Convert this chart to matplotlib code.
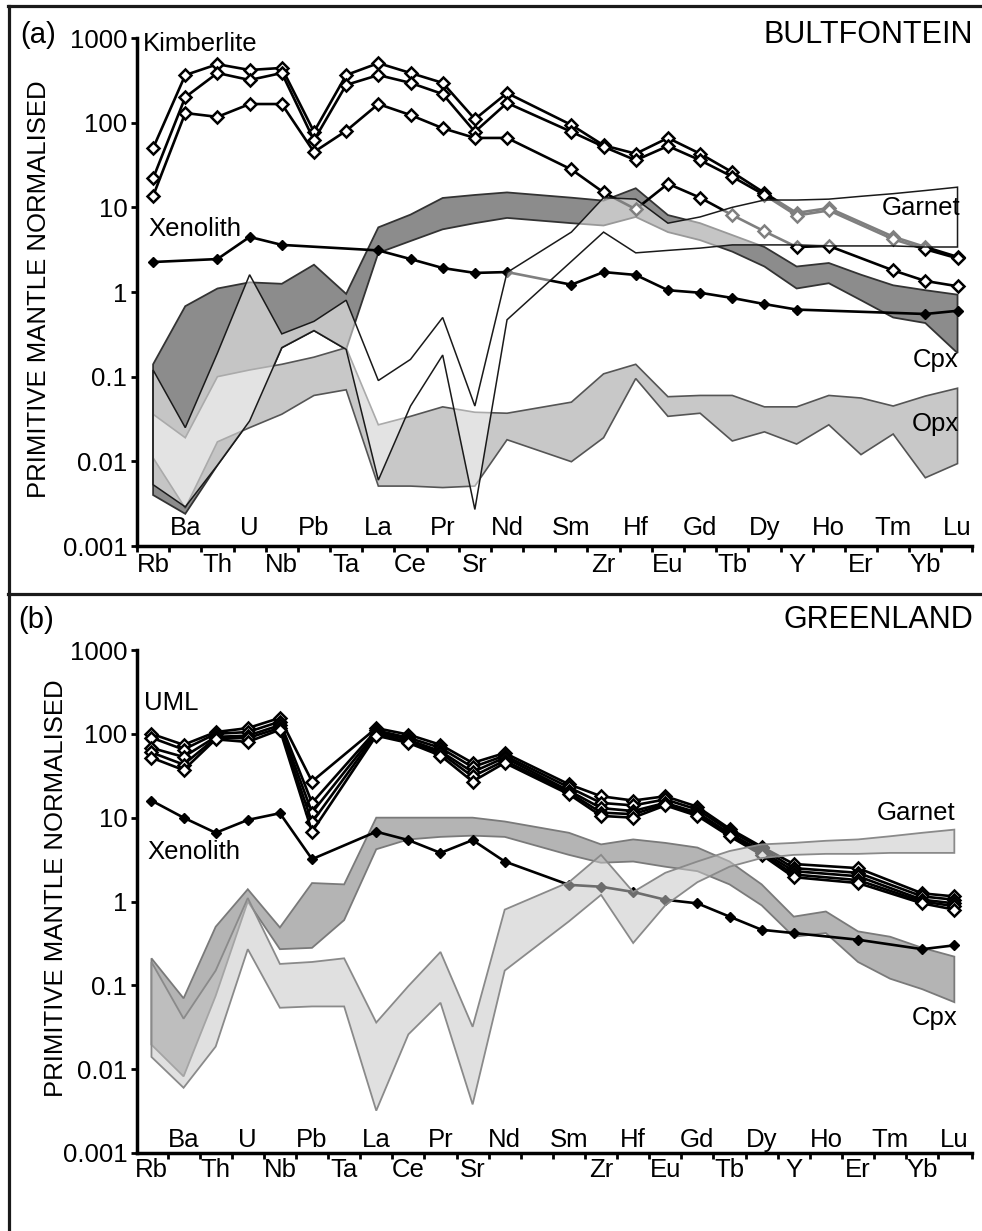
import numpy as np
import matplotlib
matplotlib.use("Agg")
import matplotlib.pyplot as plt
from matplotlib.lines import Line2D
from matplotlib.transforms import blended_transform_factory

plt.rcParams['font.family'] = ['Liberation Sans', 'DejaVu Sans']

# element order of the spider diagram (slot 12 is empty)
elements = ['Rb', 'Ba', 'Th', 'U', 'Nb', 'Pb', 'Ta', 'La', 'Ce', 'Pr', 'Sr', 'Nd', '',
            'Sm', 'Zr', 'Hf', 'Eu', 'Gd', 'Tb', 'Dy', 'Y', 'Ho', 'Er', 'Tm', 'Yb', 'Lu']
N = None

# ---- (a) Bultfontein ----
kimb_1 = [50, 365, 490, 419, 443, 78, 365, 505, 386, 295, 110, 224, N, 94, 54, 43, 66, 43, 26, 14.8, 8.6, 9.8, N, 4.5, 3.4, 2.6]
kimb_2 = [22, 200, 386, 319, 386, 62, 279, 365, 295, 218, 78, 171, N, 78, 52, 36, 53, 36, 23, 14, 8.0, 9.2, N, 4.2, 3.2, 2.5]
kimb_3 = [13.6, 130, 117, 166, 166, 45, 80, 166, 123, 86, 66, 66, N, 28, 15, 9.5, 19, 13, 8.1, 5.2, 3.4, 3.5, N, 1.8, 1.35, 1.17]
xeno_a = [2.26, N, 2.45, 4.47, 3.6, N, N, 3.1, 2.45, 1.92, 1.68, 1.72, N, 1.22, 1.72, 1.59, 1.05, 0.98, 0.85, 0.72, 0.62, N, N, N, 0.55, 0.6]

cpx_a_hi = [0.14, 0.68, 1.1, 1.3, 1.25, 2.1, 0.95, 5.8, 8.2, 12.9, 14, 15, N, 13, 12, 16.8, 8.1, 6.5, 4.7, 3.4, 2.0, 2.2, 1.6, 1.2, 1.05, 0.93]
cpx_a_lo = [0.004, 0.0024, 0.009, 0.03, 0.22, 0.35, 0.21, 2.9, 4.0, 5.5, 6.5, 7.5, N, 6.5, 6.1, 7.7, 5.1, 4.1, 3.0, 2.0, 1.1, 1.27, 0.8, 0.5, 0.43, 0.19]
grt_a_hi = [0.12, 0.025, 0.19, 1.6, 0.32, 0.45, 0.8, 0.09, 0.16, 0.5, 0.045, 1.7, N, 5.1, 13, 12.5, 6.5, 7.7, 10, 12.2, 12.2, 12.5, 13.5, 14.5, 15.8, 17.3]
grt_a_lo = [0.0053, 0.0029, 0.009, 0.03, 0.22, 0.35, 0.21, 0.006, 0.045, 0.18, 0.0027, 0.47, N, 2.3, 5.1, 2.9, 3.1, 3.3, 3.6, 3.6, 3.6, 3.5, 3.5, 3.5, 3.4, 3.4]
opx_a_hi = [0.036, 0.019, 0.1, 0.12, 0.14, 0.17, 0.22, 0.027, 0.034, 0.044, 0.038, 0.037, N, 0.05, 0.108, 0.14, 0.058, 0.06, 0.06, 0.044, 0.044, 0.06, 0.056, 0.045, 0.059, 0.073]
opx_a_lo = [0.011, 0.0028, 0.017, 0.025, 0.036, 0.06, 0.07, 0.0051, 0.0051, 0.0049, 0.0051, 0.018, N, 0.0099, 0.019, 0.095, 0.034, 0.037, 0.0174, 0.0223, 0.016, 0.027, 0.012, 0.021, 0.0064, 0.0094]

# ---- (b) Greenland ----
uml_1 = [100, 74, 105, 117, 155, 27, N, 117, 98, 74, 45, 59, N, 25, 18, 16, 18, 13.5, 7.4, 4.5, 2.8, N, 2.5, N, 1.25, 1.15]
uml_2 = [90, 65, 100, 105, 140, 15, N, 110, 90, 68, 40, 55, N, 23, 15, 14, 16.5, 12.5, 7.0, 4.3, 2.5, N, 2.2, N, 1.15, 1.05]
uml_3 = [68, 53, 92, 95, 127, 11.5, N, 105, 85, 62, 35, 52, N, 21, 13, 12, 15, 11.5, 6.5, 4.0, 2.3, N, 2.0, N, 1.05, 0.95]
uml_4 = [60, 43, 89, 89, 118, 8.8, N, 100, 80, 59, 31, 48, N, 20, 11.5, 11, 14.5, 11, 6.3, 3.8, 2.1, N, 1.8, N, 1.0, 0.88]
uml_5 = [52, 37, 86, 80, 112, 6.8, N, 95, 78, 55, 27, 45, N, 19, 10.5, 10, 14, 10.5, 6.0, 3.6, 1.95, N, 1.66, N, 0.95, 0.8]
xeno_b = [16, 10, 6.6, 9.4, 11.3, 3.2, N, 6.8, 5.4, 3.8, 5.4, 3.0, N, 1.58, 1.5, 1.3, 1.05, 0.95, 0.66, 0.46, 0.42, N, 0.35, N, 0.27, 0.30]

cpx_b_hi = [0.21, 0.07, 0.5, 1.4, 0.49, 1.66, 1.6, 10, 10, 10, 10, 9, N, 6.6, 4.8, 5.5, 5.0, 4.4, 3.0, 1.6, 0.66, 0.76, 0.44, 0.38, 0.28, 0.22]
cpx_b_lo = [0.0196, 0.0082, 0.075, 1.0, 0.27, 0.28, 0.6, 4.2, 5.5, 5.9, 6.1, 5.9, N, 3.6, 2.9, 3.0, 2.6, 2.3, 1.6, 0.9, 0.38, 0.42, 0.19, 0.12, 0.09, 0.063]
grt_b_hi = [0.19, 0.04, 0.15, 1.1, 0.18, 0.19, 0.21, 0.036, 0.098, 0.25, 0.032, 0.8, N, 1.7, 3.6, 1.3, 2.2, 3.0, 4.0, 4.8, 5.0, 5.3, 5.5, 6.0, 6.6, 7.2]
grt_b_lo = [0.014, 0.006, 0.0186, 0.27, 0.054, 0.056, 0.056, 0.0032, 0.026, 0.062, 0.0038, 0.15, N, 0.58, 1.2, 0.32, 0.9, 1.7, 2.6, 3.3, 3.6, 3.7, 3.7, 3.8, 3.8, 3.8]

yticks = [0.001, 0.01, 0.1, 1, 10, 100, 1000]
yticklabels = ['0.001', '0.01', '0.1', '1', '10', '100', '1000']

W, H = 982, 1231
x = np.arange(len(elements))


def pts(vals):
    y = np.array([np.nan if v is None else v for v in vals], float)
    m = ~np.isnan(y)
    return x[m], y[m]


def band(ax, hi, lo, fc, ec, lw, z, alpha=1.0):
    xh, yh = pts(hi)
    xl, yl = pts(lo)
    ax.fill(np.r_[xh, xl[::-1]], np.r_[yh, yl[::-1]], facecolor=fc, alpha=alpha,
            edgecolor='none', zorder=z)
    ax.fill(np.r_[xh, xl[::-1]], np.r_[yh, yl[::-1]], facecolor='none',
            edgecolor=ec, lw=lw, zorder=z + 0.1)


def spider(ax, vals, open_marker=True, color='k', z=3):
    xs, ys = pts(vals)
    if open_marker:
        ax.plot(xs, ys, '-', color=color, lw=1.9, marker='D', ms=6.5, mfc='white',
                mec=color, mew=1.8, zorder=z)
    else:
        ax.plot(xs, ys, '-', color=color, lw=1.9, marker='D', ms=4.8, mfc=color,
                mec=color, zorder=z)


def px(xp, yp):
    return xp / W, 1 - yp / H


def setup(ax, xlim, up, down):
    ax.set_yscale('log')
    ax.set_ylim(0.001, 1000)
    ax.set_xlim(*xlim)
    ax.set_yticks(yticks)
    ax.set_yticklabels(yticklabels)
    ax.yaxis.set_minor_locator(plt.NullLocator())
    ticks = [t for t in np.arange(-0.5, 25, 1) if t >= xlim[0]] + [xlim[1]]
    ax.set_xticks(ticks)
    ax.tick_params(axis='x', direction='out', length=4, width=2, labelbottom=False)
    ax.tick_params(axis='y', direction='out', length=4, width=2, labelsize=18.5, pad=3)
    for s in ['top', 'right']:
        ax.spines[s].set_visible(False)
    for s in ['left', 'bottom']:
        ax.spines[s].set_linewidth(2.5)
    tr = blended_transform_factory(ax.transData, ax.transAxes)
    for i, name in enumerate(elements):
        if not name:
            continue
        yy = up if i % 2 else down
        ax.text(i, yy, name, transform=tr, ha='center', va='center', fontsize=18.5)


fig = plt.figure(figsize=(W / 100, H / 100), dpi=100)

# panel (a)
ax = fig.add_axes([137 / W, 1 - 546 / H, (972 - 137) / W, (546 - 38) / H])
setup(ax, (-0.5, 25.45), 0.035, -0.038)
band(ax, cpx_a_hi, cpx_a_lo, '#8c8c8c', '#333333', 1.3, 1)
band(ax, opx_a_hi, opx_a_lo, '#c8c8c8', '#555555', 1.2, 1.5)
for k in [kimb_1, kimb_2, kimb_3]:
    spider(ax, k)
spider(ax, xeno_a, open_marker=False)
band(ax, grt_a_hi, grt_a_lo, 'white', '#1a1a1a', 1.1, 5, alpha=0.5)

# panel (b)
ax = fig.add_axes([137 / W, 1 - 1153 / H, (972 - 137) / W, (1153 - 650) / H])
setup(ax, (-0.45, 25.55), 0.026, -0.034)
band(ax, cpx_b_hi, cpx_b_lo, '#b4b4b4', '#7a7a7a', 1.3, 1)
for u in [uml_1, uml_2, uml_3, uml_4, uml_5]:
    spider(ax, u)
spider(ax, xeno_b, open_marker=False)
band(ax, grt_b_hi, grt_b_lo, '#c8c8c8', '#8a8a8a', 1.3, 5, alpha=0.55)

# labels
fs = 18.5
fig.text(*px(20, 35), '(a)', fontsize=21, ha='left', va='center')
fig.text(*px(973, 35), 'BULTFONTEIN', fontsize=22, ha='right', va='center')
fig.text(*px(18, 620), '(b)', fontsize=21, ha='left', va='center')
fig.text(*px(973, 620), 'GREENLAND', fontsize=22, ha='right', va='center')
fig.text(*px(39, 289), 'PRIMITIVE MANTLE NORMALISED', fontsize=fs, rotation=90,
         ha='center', va='center')
fig.text(*px(56, 888), 'PRIMITIVE MANTLE NORMALISED', fontsize=fs, rotation=90,
         ha='center', va='center')
fig.text(*px(143, 44), 'Kimberlite', fontsize=fs, ha='left', va='center')
fig.text(*px(148, 229), 'Xenolith', fontsize=fs, ha='left', va='center')
fig.text(*px(882, 208), 'Garnet', fontsize=fs, ha='left', va='center')
fig.text(*px(913, 360), 'Cpx', fontsize=fs, ha='left', va='center')
fig.text(*px(912, 424), 'Opx', fontsize=fs, ha='left', va='center')
fig.text(*px(144, 703), 'UML', fontsize=fs, ha='left', va='center')
fig.text(*px(147, 852), 'Xenolith', fontsize=fs, ha='left', va='center')
fig.text(*px(877, 813), 'Garnet', fontsize=fs, ha='left', va='center')
fig.text(*px(912, 1018), 'Cpx', fontsize=fs, ha='left', va='center')

# frame lines
for (x0, y0), (x1, y1) in [((8, 6), (982, 6)), ((9, 6), (9, 1231)), ((8, 594), (982, 594))]:
    a, b = px(x0, y0)
    c, d = px(x1, y1)
    fig.add_artist(Line2D([a, c], [b, d], color='#1a1a1a', lw=2.3))

fig.savefig('out.png', dpi=100)
